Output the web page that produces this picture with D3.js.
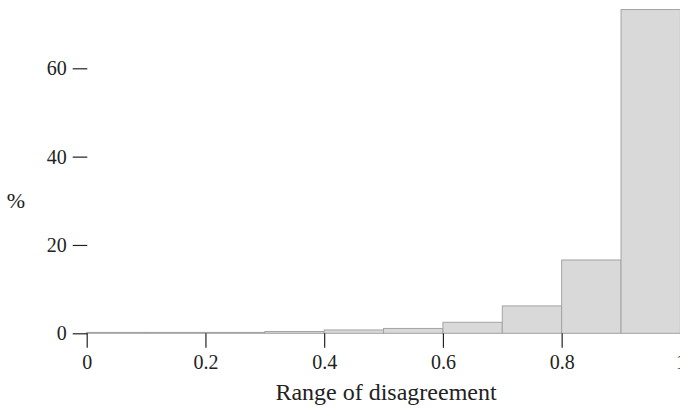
<!DOCTYPE html>
<html>
<head>
<meta charset="utf-8">
<script src="https://cdn.jsdelivr.net/npm/d3@7"></script>
<style>
  html, body { margin: 0; padding: 0; background: #fff; }
  svg { display: block; }
  text { font-family: "Liberation Serif", "Times New Roman", serif; fill: #222; }
</style>
</head>
<body>
<svg id="chart" width="680" height="408"></svg>
<script>
// Histogram of the range of disagreement (share of cases, %)
const binStarts = [0, 0.1, 0.2, 0.3, 0.4, 0.5, 0.6, 0.7, 0.8, 0.9];
const binWidth = 0.1;
const percents = [0.2, 0.2, 0.2, 0.4, 0.75, 1.1, 2.5, 6.2, 16.6, 73.3];
const xTicks = [0, 0.2, 0.4, 0.6, 0.8, 1];
const yTicks = [0, 20, 40, 60];
const xTitle = "Range of disagreement";
const yTitle = "%";

const svg = d3.select("#chart");

const x = d3.scaleLinear().domain([0, 1]).range([86.7, 680.4]);
const y = d3.scaleLinear().domain([0, 60]).range([333.3, 68.3]);

// bars
svg.append("g").selectAll("rect")
  .data(binStarts.map((s, i) => ({ s, v: percents[i] })))
  .join("rect")
  .attr("x", d => x(d.s))
  .attr("width", d => x(d.s + binWidth) - x(d.s))
  .attr("y", d => y(d.v))
  .attr("height", d => y(0) - y(d.v))
  .attr("fill", "#d9d9d9")
  .attr("stroke", "#a3a3a3")
  .attr("stroke-width", 1);

// y axis (ticks only, no domain line)
const yAxis = d3.axisLeft(y).tickValues(yTicks).tickSize(14.6).tickPadding(6)
  .tickFormat(d3.format("d"));
const gy = svg.append("g").attr("transform", "translate(87.3,0)").call(yAxis);
gy.select(".domain").remove();
gy.selectAll(".tick line").attr("stroke", "#222").attr("stroke-width", 1.2);
gy.selectAll(".tick text").attr("font-size", 20).attr("font-family", "Liberation Serif").attr("fill", "#222");

// x axis (ticks only, no domain line)
const xAxis = d3.axisBottom(x).tickValues(xTicks).tickSize(14.5).tickPadding(7)
  .tickFormat(d => d === 0 || d === 1 ? String(d) : d3.format(".1f")(d));
const gx = svg.append("g").attr("transform", "translate(0,333.3)").call(xAxis);
gx.select(".domain").remove();
gx.selectAll(".tick line").attr("stroke", "#222").attr("stroke-width", 1.2);
gx.selectAll(".tick text").attr("font-size", 20).attr("font-family", "Liberation Serif").attr("fill", "#222");

// axis titles
svg.append("text")
  .attr("x", 386).attr("y", 400)
  .attr("text-anchor", "middle")
  .attr("font-size", 24)
  .text(xTitle);

svg.append("text")
  .attr("x", 16).attr("y", 208)
  .attr("text-anchor", "middle")
  .attr("font-size", 22)
  .text(yTitle);
</script>
</body>
</html>
